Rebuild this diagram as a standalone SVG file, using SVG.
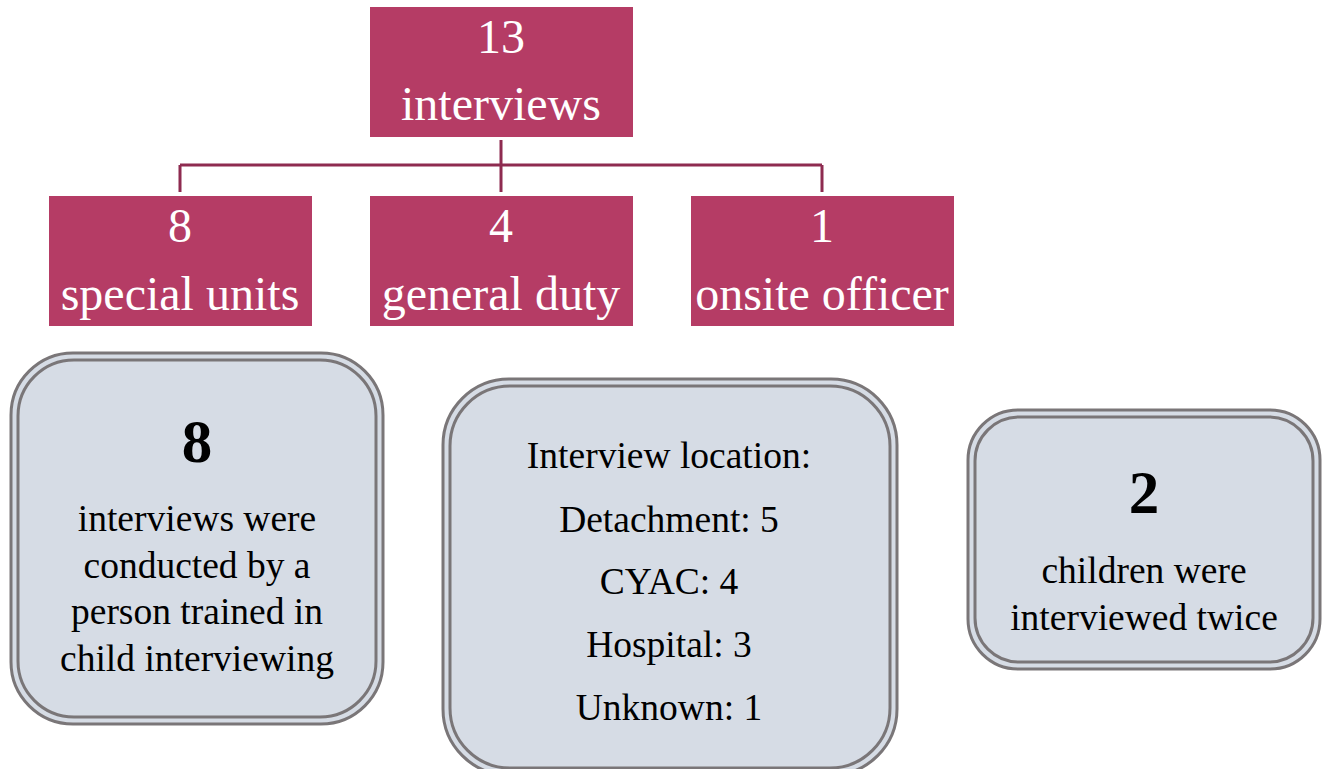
<svg xmlns="http://www.w3.org/2000/svg" width="1322" height="769" viewBox="0 0 1322 769">
<style>
text{font-family:'Liberation Serif','Times New Roman',Times,serif}
.pk{fill:#B53C65}
.wt{fill:#fff;font-size:48px;text-anchor:middle}
.bx{fill:#D6DCE5;stroke:#7a7678;stroke-width:3}
.bi{fill:none;stroke:#7a7678;stroke-width:3}
.bt{fill:#000;font-size:37.5px;text-anchor:middle}
.bn{fill:#000;font-size:61px;font-weight:bold;text-anchor:middle}
.cn{stroke:#8E2B50;stroke-width:3;fill:none}
</style>
<rect width="1322" height="769" fill="#fff"/>
<g id="connectors">
<path class="cn" d="M501 140V192M180 165H822M180 165V192M822 165V192"/>
</g>
<g id="n-top">
<rect class="pk" x="370" y="7" width="263" height="130"/>
<text class="wt" x="501" y="53">13</text>
<text class="wt" x="501" y="120">interviews</text>
</g>
<g id="n-special">
<rect class="pk" x="49" y="196" width="263" height="130"/>
<text class="wt" x="180" y="242">8</text>
<text class="wt" x="180" y="310">special units</text>
</g>
<g id="n-general">
<rect class="pk" x="370" y="196" width="263" height="130"/>
<text class="wt" x="501" y="242">4</text>
<text class="wt" x="501" y="310">general duty</text>
</g>
<g id="n-onsite">
<rect class="pk" x="691" y="196" width="263" height="130"/>
<text class="wt" x="822" y="242">1</text>
<text class="wt" x="822" y="310">onsite officer</text>
</g>
<g id="b-trained">
<rect class="bx" x="11" y="353" width="372" height="371" rx="62"/>
<rect class="bi" x="18" y="360" width="358" height="357" rx="56"/>
<text class="bn" x="197" y="462">8</text>
<text class="bt" x="197" y="531">interviews were</text>
<text class="bt" x="197" y="578">conducted by a</text>
<text class="bt" x="197" y="624">person trained in</text>
<text class="bt" x="197" y="671">child interviewing</text>
</g>
<g id="b-location">
<rect class="bx" x="443" y="379" width="454" height="396" rx="66"/>
<rect class="bi" x="450" y="386" width="440" height="382" rx="60"/>
<text class="bt" x="669" y="468">Interview location:</text>
<text class="bt" x="669" y="532">Detachment: 5</text>
<text class="bt" x="669" y="594">CYAC: 4</text>
<text class="bt" x="669" y="657">Hospital: 3</text>
<text class="bt" x="669" y="720">Unknown: 1</text>
</g>
<g id="b-twice">
<rect class="bx" x="968" y="410" width="352" height="259" rx="50"/>
<rect class="bi" x="975" y="417" width="338" height="245" rx="44"/>
<text class="bn" x="1144" y="513">2</text>
<text class="bt" x="1144" y="583">children were</text>
<text class="bt" x="1144" y="630">interviewed twice</text>
</g>
</svg>
